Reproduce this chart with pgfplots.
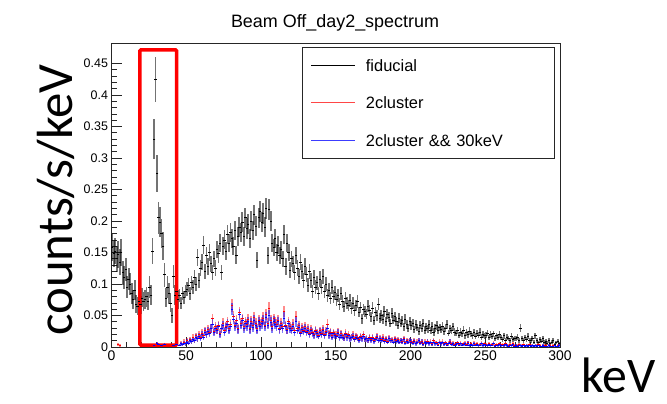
\documentclass[border=0pt]{standalone}
\usepackage{pgfplots}
\pgfplotsset{compat=1.18}
\usepackage{pgfplotstable}
\usepackage{fontspec}
\setmainfont{Liberation Sans}
\newfontfamily\calibri{Carlito}
\definecolor{legred}{RGB}{255,70,70}
\definecolor{legblue}{RGB}{60,60,255}

\pgfplotstableread{
x f fe r re b be
0.5 0.158 0.022 nan nan nan nan
1.5 0.148 0.021 nan nan nan nan
2.5 0.152 0.021 nan nan nan nan
3.5 0.140 0.021 nan nan nan nan
4.5 0.147 0.021 0.004 0.003 nan nan
5.5 0.135 0.020 0.002 0.002 nan nan
6.5 0.150 0.021 nan nan nan nan
7.5 0.118 0.019 nan nan nan nan
8.5 0.110 0.018 nan nan nan nan
9.5 0.123 0.019 nan nan nan nan
10.5 0.095 0.017 nan nan nan nan
11.5 0.108 0.018 nan nan nan nan
12.5 0.100 0.017 nan nan nan nan
13.5 0.085 0.016 nan nan nan nan
14.5 0.076 0.015 nan nan nan nan
15.5 0.090 0.016 nan nan nan nan
16.5 0.068 0.014 nan nan nan nan
17.5 0.065 0.014 nan nan nan nan
18.5 0.072 0.015 nan nan nan nan
19.5 0.067 0.014 nan nan nan nan
20.5 0.078 0.015 nan nan nan nan
21.5 0.072 0.015 nan nan nan nan
22.5 0.075 0.015 nan nan nan nan
23.5 0.080 0.016 nan nan nan nan
24.5 0.073 0.015 nan nan nan nan
25.5 0.095 0.017 nan nan nan nan
26.5 0.082 0.016 nan nan nan nan
27.5 0.152 0.021 nan nan nan nan
28.5 0.330 0.032 0.003 0.002 0.003 0.002
29.5 0.425 0.036 nan nan nan nan
30.5 0.275 0.029 0.005 0.003 0.005 0.003
31.5 0.205 0.025 0.004 0.003 0.004 0.003
32.5 0.198 0.024 nan nan nan nan
33.5 0.180 0.023 0.003 0.002 0.003 0.002
34.5 0.160 0.022 nan nan nan nan
35.5 0.115 0.019 0.004 0.003 0.004 0.003
36.5 0.078 0.015 nan nan nan nan
37.5 0.095 0.017 nan nan nan nan
38.5 0.085 0.016 nan nan nan nan
39.5 0.070 0.015 nan nan nan nan
40.5 0.050 0.012 nan nan nan nan
41.5 0.112 0.018 0.002 0.002 0.002 0.002
42.5 0.082 0.016 nan nan nan nan
43.5 0.088 0.016 0.004 0.003 0.004 0.003
44.5 0.076 0.015 nan nan nan nan
45.5 0.082 0.010 0.003 0.002 0.003 0.002
46.5 0.070 0.010 0.006 0.003 0.005 0.003
47.5 0.085 0.010 0.004 0.003 0.004 0.003
48.5 0.079 0.010 0.008 0.004 0.006 0.003
49.5 0.088 0.011 0.005 0.003 0.005 0.003
50.5 0.092 0.011 0.010 0.004 0.008 0.004
51.5 0.098 0.011 0.006 0.003 0.006 0.003
52.5 0.085 0.010 0.012 0.004 0.010 0.004
53.5 0.102 0.011 0.009 0.004 0.009 0.004
54.5 0.095 0.011 0.015 0.005 0.012 0.004
55.5 0.110 0.012 0.011 0.004 0.011 0.004
56.5 0.100 0.011 0.018 0.005 0.015 0.005
57.5 0.142 0.014 0.013 0.005 0.013 0.005
58.5 0.105 0.012 0.020 0.006 0.017 0.005
59.5 0.125 0.013 0.016 0.005 0.014 0.005
60.5 0.135 0.013 0.022 0.006 0.020 0.006
61.5 0.162 0.014 0.018 0.005 0.016 0.005
62.5 0.120 0.012 0.026 0.006 0.024 0.006
63.5 0.145 0.014 0.020 0.006 0.020 0.006
64.5 0.128 0.013 0.028 0.007 0.025 0.006
65.5 0.150 0.014 0.024 0.006 0.022 0.006
66.5 0.132 0.013 0.030 0.007 0.030 0.007
67.5 0.118 0.012 0.045 0.008 0.036 0.008
68.5 0.140 0.013 0.025 0.006 0.023 0.006
69.5 0.125 0.013 0.032 0.007 0.029 0.007
70.5 0.155 0.014 0.028 0.007 0.026 0.006
71.5 0.148 0.014 0.035 0.007 0.032 0.007
72.5 0.165 0.015 0.022 0.006 0.020 0.006
73.5 0.118 0.012 0.030 0.007 0.030 0.007
74.5 0.160 0.014 0.038 0.008 0.034 0.007
75.5 0.170 0.015 0.026 0.006 0.024 0.006
76.5 0.152 0.014 0.033 0.007 0.031 0.007
77.5 0.178 0.015 0.040 0.008 0.036 0.008
78.5 0.165 0.015 0.029 0.007 0.027 0.007
79.5 0.182 0.015 0.036 0.008 0.033 0.007
80.5 0.172 0.015 0.066 0.010 0.060 0.010
81.5 0.160 0.014 0.048 0.009 0.044 0.008
82.5 0.185 0.015 0.035 0.007 0.033 0.007
83.5 0.146 0.014 0.042 0.008 0.038 0.008
84.5 0.175 0.015 0.030 0.007 0.028 0.007
85.5 0.190 0.016 0.055 0.009 0.052 0.009
86.5 0.182 0.015 0.038 0.008 0.035 0.007
87.5 0.198 0.016 0.045 0.008 0.042 0.008
88.5 0.176 0.015 0.032 0.007 0.030 0.007
89.5 0.205 0.016 0.040 0.008 0.037 0.008
90.5 0.188 0.016 0.036 0.008 0.033 0.007
91.5 0.195 0.016 0.044 0.008 0.040 0.008
92.5 0.172 0.015 0.030 0.007 0.028 0.007
93.5 0.200 0.016 0.041 0.008 0.038 0.008
94.5 0.185 0.015 0.034 0.007 0.031 0.007
95.5 0.210 0.016 0.047 0.009 0.043 0.008
96.5 0.192 0.016 0.038 0.008 0.035 0.007
97.5 0.138 0.013 0.029 0.007 0.027 0.007
98.5 0.205 0.016 0.043 0.008 0.040 0.008
99.5 0.215 0.017 0.036 0.008 0.033 0.007
100.5 0.198 0.016 0.040 0.008 0.037 0.008
101.5 0.212 0.017 0.046 0.009 0.043 0.008
102.5 0.190 0.016 0.035 0.007 0.032 0.007
103.5 0.220 0.017 0.052 0.009 0.047 0.009
104.5 0.145 0.014 0.038 0.008 0.035 0.007
105.5 0.218 0.017 0.062 0.010 0.050 0.009
106.5 0.200 0.016 0.042 0.008 0.039 0.008
107.5 0.165 0.015 0.033 0.007 0.030 0.007
108.5 0.158 0.014 0.045 0.008 0.041 0.008
109.5 0.172 0.015 0.039 0.008 0.036 0.008
110.5 0.150 0.014 0.036 0.008 0.033 0.007
111.5 0.162 0.014 0.043 0.008 0.040 0.008
112.5 0.145 0.014 0.030 0.007 0.028 0.007
113.5 0.155 0.014 0.038 0.008 0.035 0.007
114.5 0.140 0.013 0.033 0.007 0.030 0.007
115.5 0.178 0.015 0.056 0.009 0.046 0.009
116.5 0.128 0.013 0.035 0.007 0.032 0.007
117.5 0.165 0.015 0.028 0.007 0.026 0.006
118.5 0.150 0.014 0.040 0.008 0.037 0.008
119.5 0.122 0.013 0.032 0.007 0.029 0.007
120.5 0.140 0.013 0.030 0.007 0.027 0.007
121.5 0.132 0.013 0.036 0.008 0.033 0.007
122.5 0.118 0.012 0.026 0.006 0.024 0.006
123.5 0.145 0.014 0.048 0.009 0.040 0.008
124.5 0.125 0.013 0.029 0.007 0.027 0.007
125.5 0.112 0.012 0.034 0.007 0.031 0.007
126.5 0.135 0.013 0.024 0.006 0.022 0.006
127.5 0.120 0.012 0.031 0.007 0.028 0.007
128.5 0.105 0.012 0.027 0.007 0.025 0.006
129.5 0.128 0.013 0.033 0.007 0.030 0.007
130.5 0.115 0.012 0.025 0.006 0.023 0.006
131.5 0.098 0.011 0.030 0.007 0.027 0.007
132.5 0.120 0.012 0.022 0.006 0.020 0.006
133.5 0.105 0.012 0.028 0.007 0.026 0.006
134.5 0.088 0.011 0.024 0.006 0.022 0.006
135.5 0.110 0.012 0.020 0.006 0.018 0.005
136.5 0.095 0.011 0.027 0.007 0.025 0.006
137.5 0.102 0.011 0.023 0.006 0.021 0.006
138.5 0.085 0.010 0.019 0.006 0.017 0.005
139.5 0.108 0.012 0.026 0.006 0.024 0.006
140.5 0.095 0.011 0.022 0.006 0.020 0.006
141.5 0.112 0.012 0.028 0.007 0.026 0.006
142.5 0.088 0.011 0.020 0.006 0.018 0.005
143.5 0.100 0.011 0.025 0.006 0.023 0.006
144.5 0.082 0.010 0.036 0.008 0.030 0.007
145.5 0.090 0.011 0.021 0.006 0.019 0.006
146.5 0.078 0.010 0.024 0.006 0.022 0.006
147.5 0.095 0.011 0.018 0.005 0.016 0.005
148.5 0.080 0.010 0.023 0.006 0.021 0.006
149.5 0.086 0.011 0.020 0.006 0.018 0.005
150.5 0.075 0.010 0.019 0.006 0.017 0.005
151.5 0.082 0.010 0.024 0.006 0.022 0.006
152.5 0.068 0.009 0.016 0.005 0.015 0.005
153.5 0.085 0.010 0.021 0.006 0.019 0.006
154.5 0.072 0.010 0.018 0.005 0.016 0.005
155.5 0.064 0.009 0.015 0.005 0.014 0.005
156.5 0.078 0.010 0.022 0.006 0.020 0.006
157.5 0.070 0.010 0.017 0.005 0.015 0.005
158.5 0.066 0.009 0.020 0.006 0.018 0.005
159.5 0.074 0.010 0.014 0.005 0.013 0.005
160.5 0.062 0.009 0.016 0.005 0.015 0.005
161.5 0.070 0.010 0.019 0.006 0.017 0.005
162.5 0.058 0.009 0.013 0.005 0.012 0.004
163.5 0.066 0.009 0.018 0.005 0.016 0.005
164.5 0.072 0.010 0.015 0.005 0.014 0.005
165.5 0.055 0.008 0.012 0.004 0.011 0.004
166.5 0.063 0.009 0.017 0.005 0.015 0.005
167.5 0.045 0.008 0.014 0.005 0.013 0.005
168.5 0.060 0.009 0.020 0.006 0.017 0.005
169.5 0.056 0.009 0.013 0.005 0.012 0.004
170.5 0.052 0.008 0.014 0.005 0.013 0.005
171.5 0.065 0.009 0.011 0.004 0.010 0.004
172.5 0.058 0.009 0.016 0.005 0.014 0.005
173.5 0.048 0.008 0.012 0.004 0.011 0.004
174.5 0.062 0.009 0.015 0.005 0.014 0.005
175.5 0.042 0.007 0.010 0.004 0.009 0.004
176.5 0.055 0.008 0.013 0.005 0.012 0.004
177.5 0.050 0.008 0.017 0.005 0.015 0.005
178.5 0.068 0.009 0.011 0.004 0.010 0.004
179.5 0.046 0.008 0.014 0.005 0.013 0.005
180.5 0.050 0.008 0.012 0.004 0.011 0.004
181.5 0.044 0.008 0.015 0.005 0.013 0.005
182.5 0.056 0.009 0.010 0.004 0.009 0.004
183.5 0.040 0.007 0.013 0.005 0.012 0.004
184.5 0.052 0.008 0.009 0.004 0.008 0.004
185.5 0.047 0.008 0.014 0.005 0.013 0.005
186.5 0.038 0.007 0.011 0.004 0.010 0.004
187.5 0.054 0.008 0.012 0.004 0.011 0.004
188.5 0.043 0.007 0.008 0.004 0.007 0.003
189.5 0.048 0.008 0.013 0.005 0.012 0.004
190.5 0.040 0.007 0.010 0.004 0.009 0.004
191.5 0.035 0.007 0.012 0.004 0.011 0.004
192.5 0.046 0.008 0.008 0.004 0.007 0.003
193.5 0.038 0.007 0.011 0.004 0.010 0.004
194.5 0.042 0.007 0.009 0.004 0.008 0.004
195.5 0.032 0.006 0.013 0.005 0.012 0.004
196.5 0.044 0.008 0.007 0.003 0.006 0.003
197.5 0.036 0.007 0.010 0.004 0.009 0.004
198.5 0.030 0.006 0.008 0.004 0.007 0.003
199.5 0.040 0.007 0.011 0.004 0.010 0.004
200.5 0.034 0.007 0.009 0.004 0.008 0.004
201.5 0.038 0.007 0.007 0.003 0.006 0.003
202.5 0.028 0.006 0.010 0.004 0.009 0.004
203.5 0.036 0.007 0.006 0.003 0.005 0.003
204.5 0.031 0.006 0.008 0.004 0.007 0.003
205.5 0.025 0.006 0.011 0.004 0.010 0.004
206.5 0.035 0.007 0.007 0.003 0.006 0.003
207.5 0.030 0.006 0.009 0.004 0.008 0.004
208.5 0.038 0.007 0.005 0.003 0.004 0.003
209.5 0.027 0.006 0.008 0.004 0.007 0.003
210.5 0.032 0.006 0.007 0.003 0.006 0.003
211.5 0.029 0.006 0.009 0.004 0.008 0.004
212.5 0.036 0.007 0.006 0.003 0.005 0.003
213.5 0.026 0.006 0.008 0.004 0.007 0.003
214.5 0.033 0.007 0.005 0.003 0.004 0.003
215.5 0.024 0.006 0.010 0.004 0.008 0.004
216.5 0.030 0.006 0.006 0.003 0.005 0.003
217.5 0.034 0.007 0.007 0.003 0.006 0.003
218.5 0.027 0.006 0.004 0.003 0.003 0.002
219.5 0.031 0.006 0.008 0.004 0.007 0.003
220.5 0.028 0.006 0.006 0.003 0.005 0.003
221.5 0.033 0.007 0.008 0.004 0.007 0.003
222.5 0.025 0.006 0.005 0.003 0.004 0.003
223.5 0.030 0.006 0.007 0.003 0.006 0.003
224.5 0.036 0.007 0.004 0.003 0.003 0.002
225.5 0.022 0.005 0.006 0.003 0.005 0.003
226.5 0.029 0.006 0.009 0.004 0.008 0.004
227.5 0.026 0.006 0.005 0.003 0.004 0.003
228.5 0.032 0.006 0.006 0.003 0.005 0.003
229.5 0.024 0.006 0.004 0.003 0.003 0.002
230.5 0.022 0.005 0.005 0.003 0.004 0.003
231.5 0.026 0.006 0.007 0.003 0.006 0.003
232.5 0.019 0.005 0.004 0.003 0.003 0.002
233.5 0.024 0.006 0.006 0.003 0.005 0.003
234.5 0.021 0.005 0.003 0.002 0.003 0.002
235.5 0.027 0.006 0.005 0.003 0.004 0.003
236.5 0.018 0.005 0.006 0.003 0.005 0.003
237.5 0.023 0.005 0.004 0.003 0.003 0.002
238.5 0.020 0.005 0.007 0.003 0.006 0.003
239.5 0.025 0.006 0.003 0.002 0.002 0.002
240.5 0.021 0.005 0.005 0.003 0.004 0.003
241.5 0.018 0.005 0.003 0.002 0.002 0.002
242.5 0.023 0.005 0.006 0.003 0.005 0.003
243.5 0.017 0.005 0.004 0.003 0.003 0.002
244.5 0.022 0.005 0.005 0.003 0.004 0.003
245.5 0.019 0.005 0.002 0.002 0.002 0.002
246.5 0.024 0.006 0.004 0.003 0.003 0.002
247.5 0.016 0.005 0.006 0.003 0.005 0.003
248.5 0.020 0.005 0.003 0.002 0.002 0.002
249.5 0.018 0.005 0.005 0.003 0.004 0.003
250.5 0.019 0.005 0.004 0.003 0.003 0.002
251.5 0.022 0.005 0.002 0.002 0.002 0.002
252.5 0.015 0.004 0.005 0.003 0.004 0.003
253.5 0.020 0.005 0.003 0.002 0.002 0.002
254.5 0.017 0.005 0.004 0.003 0.003 0.002
255.5 0.021 0.005 0.006 0.003 0.005 0.003
256.5 0.014 0.004 0.002 0.002 0.001 0.001
257.5 0.018 0.005 0.004 0.003 0.003 0.002
258.5 0.016 0.005 0.003 0.002 0.002 0.002
259.5 0.020 0.005 0.005 0.003 0.004 0.003
260.5 0.015 0.004 0.003 0.002 0.002 0.002
261.5 0.012 0.004 0.004 0.003 0.003 0.002
262.5 0.018 0.005 0.002 0.002 0.002 0.002
263.5 0.011 0.004 0.005 0.003 0.004 0.003
264.5 0.016 0.005 0.003 0.002 0.002 0.002
265.5 0.013 0.004 0.002 0.002 0.001 0.001
266.5 0.010 0.004 0.004 0.003 0.003 0.002
267.5 0.017 0.005 0.003 0.002 0.002 0.002
268.5 0.012 0.004 0.005 0.003 0.004 0.003
269.5 0.014 0.004 0.002 0.002 0.001 0.001
270.5 0.013 0.004 0.003 0.002 0.002 0.002
271.5 0.016 0.005 0.002 0.002 0.001 0.001
272.5 0.011 0.004 0.004 0.003 0.003 0.002
273.5 0.030 0.006 0.003 0.002 0.002 0.002
274.5 0.014 0.004 0.002 0.002 0.001 0.001
275.5 0.010 0.004 0.004 0.003 0.003 0.002
276.5 0.015 0.004 0.001 0.001 0.001 0.001
277.5 0.012 0.004 0.003 0.002 0.002 0.002
278.5 0.017 0.005 0.002 0.002 0.001 0.001
279.5 0.011 0.004 0.004 0.003 0.003 0.002
280.5 0.010 0.004 0.002 0.002 0.001 0.001
281.5 0.013 0.004 0.003 0.002 0.002 0.002
282.5 0.008 0.003 0.001 0.001 0.001 0.001
283.5 0.018 0.005 0.003 0.002 0.002 0.002
284.5 0.011 0.004 0.002 0.002 0.001 0.001
285.5 0.007 0.003 0.004 0.003 0.003 0.002
286.5 0.012 0.004 0.002 0.002 0.001 0.001
287.5 0.009 0.003 0.001 0.001 0.001 0.001
288.5 0.013 0.004 0.003 0.002 0.002 0.002
289.5 0.008 0.003 0.002 0.002 0.001 0.001
290.5 0.009 0.003 0.002 0.002 0.001 0.001
291.5 0.006 0.003 0.001 0.001 0.001 0.001
292.5 0.010 0.004 0.003 0.002 0.002 0.002
293.5 0.005 0.003 0.002 0.002 0.001 0.001
294.5 0.008 0.003 0.001 0.001 0.001 0.001
295.5 0.011 0.004 0.002 0.002 0.001 0.001
296.5 0.004 0.002 0.003 0.002 0.002 0.002
297.5 0.007 0.003 0.001 0.001 0.001 0.001
298.5 0.009 0.003 0.002 0.002 0.001 0.001
299.5 0.005 0.003 0.003 0.002 0.002 0.002
}\spec

\begin{document}
\begin{tikzpicture}
\useasboundingbox (0bp,0bp) rectangle (667bp,404bp);
\begin{axis}[
  at={(111.5bp,57bp)}, anchor=south west,
  scale only axis, width=448.5bp, height=304bp,
  xmin=0, xmax=300, ymin=0, ymax=0.4825,
  clip=false,
  axis line style={black!85, line width=0.8bp},
  tick align=inside, xtick pos=bottom, ytick pos=left,
  xtick={0,50,100,150,200,250,300},
  xticklabels={0,50,100,150,200,250,300},
  ytick={0,0.05,0.1,0.15,0.2,0.25,0.3,0.35,0.4,0.45},
  yticklabels={0,0.05,0.1,0.15,0.2,0.25,0.3,0.35,0.4,0.45},
  minor x tick num=4, minor y tick num=4,
  major tick length=10bp, minor tick length=5bp,
  tick style={black!85, line width=0.6bp},
  xticklabel style={font=\fontsize{14}{16}\selectfont},
  yticklabel style={font=\fontsize{12.5}{15}\selectfont},
  scaled ticks=false,
  legend image code/.code={\draw[#1] (0bp,0bp) -- (44bp,0bp);},
  legend style={at={(0.4248,0.9868)}, anchor=north west, draw=black!85,
    line width=0.6bp, inner xsep=8.7bp, inner ysep=12bp, row sep=25.5bp,
    column sep=10bp,
    font=\fontsize{16.5}{18}\selectfont,
    nodes={inner sep=0pt, text height=12bp, text depth=0bp, anchor=west, text width=180bp}},
  legend cell align=left,
]
\addplot[forget plot, only marks, mark=-, mark size=1.2bp,
  mark options={black, line width=0.7bp},
  error bars/.cd, y dir=both, y explicit, error mark=none,
  error bar style={black, opacity=0.55, line width=1.7bp}]
  table[x=x, y=f, y error=fe] {\spec};
\addplot[forget plot, only marks, mark=-, mark size=1.2bp,
  mark options={red, line width=0.7bp},
  error bars/.cd, y dir=both, y explicit, error mark=none,
  error bar style={red, opacity=0.45, line width=1.6bp}]
  table[x=x, y=r, y error=re] {\spec};
\addplot[forget plot, only marks, mark=-, mark size=1.2bp,
  mark options={blue, line width=0.7bp},
  error bars/.cd, y dir=both, y explicit, error mark=none,
  error bar style={blue, opacity=0.5, line width=1.6bp}]
  table[x=x, y=b, y error=be] {\spec};
\addlegendimage{legend image code/.code={\draw[black, line width=0.7bp] (0bp,0bp) -- (44bp,0bp);}}
\addlegendentry{fiducial}
\addlegendimage{legend image code/.code={\draw[legred, line width=0.9bp] (0bp,0bp) -- (44bp,0bp);}}
\addlegendentry{2cluster}
\addlegendimage{legend image code/.code={\draw[legblue, line width=0.8bp] (0bp,0bp) -- (44bp,0bp);}}
\addlegendentry{2cluster \&\& 30keV}
\draw[red, line width=3.5bp, rounded corners=1bp] (axis cs:19.0,0.003) rectangle (axis cs:43.6,0.4714);
\end{axis}
\node[anchor=base, font=\fontsize{18}{21}\selectfont] at (335bp,376bp) {Beam Off\_day2\_spectrum};
\node[anchor=base, rotate=90, font=\calibri\fontsize{51}{60}\selectfont] at (72bp,204bp) {counts/s/keV};
\node[anchor=base west, font=\calibri\fontsize{50}{60}\selectfont] at (578bp,12bp) {keV};
\end{tikzpicture}
\end{document}
